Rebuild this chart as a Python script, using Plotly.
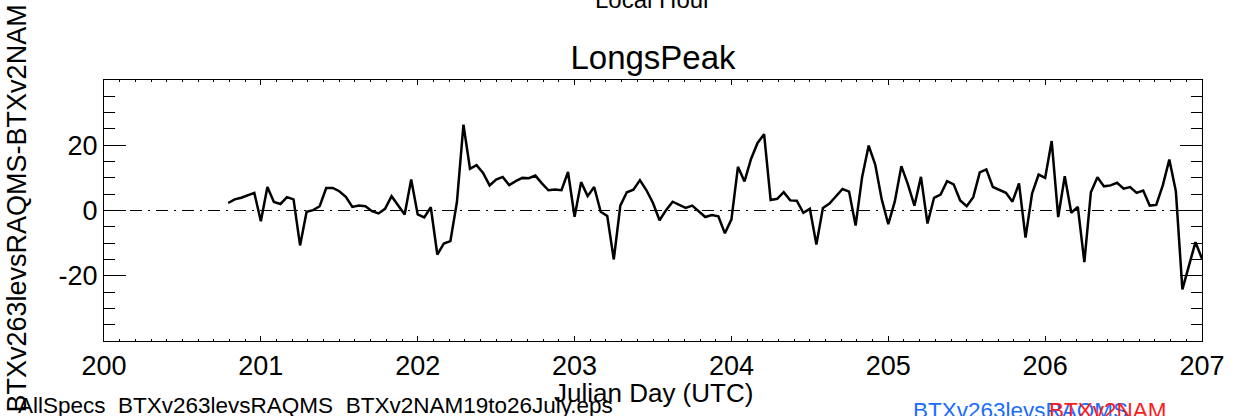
import numpy as np
import plotly.graph_objects as go

# hourly differences BTXv263levsRAQMS - BTXv2NAM, starting day 200 hour 19 UTC
start_day = 200
start_hour = 19
diff = [
    2.3, 3.4, 3.9, 4.6, 5.4, -3.3, 7.2, 2.6, 2.0, 4.1,
    3.4, -10.7, -0.4, 0.1, 1.3, 6.9, 6.9, 5.9, 4.2, 1.1,
    1.5, 1.3, -0.2, -0.9, 0.5, 4.4, 1.5, -1.2, 9.5, -1.2,
    -2.1, 1.0, -13.5, -10.1, -9.4, 2.6, 26.3, 12.8, 13.9, 11.5,
    7.7, 9.5, 10.3, 7.8, 9.0, 10.0, 9.9, 10.7, 8.3, 6.2,
    6.4, 6.2, 11.8, -1.9, 8.7, 4.4, 7.2, -0.4, -1.7, -15.0,
    1.5, 5.6, 6.4, 9.3, 6.2, 2.3, -3.0, 0.1, 2.7, 1.7,
    0.8, 1.5, -0.4, -2.0, -1.4, -1.8, -7.0, -2.7, 13.4, 8.9,
    15.8, 20.7, 23.4, 3.2, 3.6, 5.6, 3.1, 3.0, -0.7, 0.5,
    -10.4, 0.8, 2.1, 4.4, 6.6, 5.8, -4.6, 10.3, 19.9, 14.1,
    3.4, -4.2, 2.8, 13.6, 8.0, 1.5, 10.3, -4.0, 3.9, 4.9,
    9.0, 8.0, 3.1, 1.3, 4.1, 11.7, 12.6, 7.2, 6.4, 5.4,
    2.7, 8.3, -8.3, 5.2, 11.0, 10.0, 21.3, -2.0, 10.5, -0.7,
    1.1, -15.8, 5.6, 10.2, 7.4, 7.7, 8.5, 6.7, 7.2, 5.4,
    6.1, 1.5, 1.7, 7.7, 15.6, 5.9, -24.2, -17.0, -9.7, -14.8,
]
days = start_day + (start_hour + np.arange(len(diff))) / 24.0

x_ticks = [200, 201, 202, 203, 204, 205, 206, 207]
y_ticks = [-40, -20, 0, 20, 40]
y_ticklabels = ['', '-20', '0', '20', '']

font = 'Liberation Sans, Arial, sans-serif'
W, H = 1237, 416
L, R, T, B = 104, 29, 80, 75
ph = H - T - B


def py(pix):
    # pixel row -> paper y
    return (H - B - pix) / ph


def px(pix):
    return (pix - L) / (W - L - R)


fig = go.Figure()
fig.add_trace(go.Scatter(x=days, y=diff, mode='lines',
                         line=dict(color='black', width=2.5), showlegend=False))
fig.add_hline(y=0, line=dict(color='black', width=1, dash='12px,6px,2px,6px'))

xax = dict(range=[200, 207], tickvals=x_ticks, ticks='inside', ticklen=5, tickwidth=1,
           tickcolor='black', showline=True, linecolor='black', linewidth=1.2,
           showgrid=False, zeroline=False,
           minor=dict(dtick=0.1, ticks='inside', ticklen=2, tickcolor='black', showgrid=False))
yax = dict(range=[-40, 40], tickvals=y_ticks, ticks='inside', ticklen=22, tickwidth=1,
           tickcolor='black', showline=True, linecolor='black', linewidth=1.2,
           showgrid=False, zeroline=False,
           minor=dict(dtick=5, ticks='inside', ticklen=11, tickcolor='black', showgrid=False))

fig.update_layout(
    width=W, height=H,
    margin=dict(l=L, r=R, t=T, b=B),
    paper_bgcolor='white', plot_bgcolor='white',
    font=dict(family=font, size=27, color='black'),
    title=dict(text='LongsPeak', x=px(656), xref='paper', xanchor='center',
               y=1 - 57 / H, yanchor='middle', font=dict(size=33)),
    xaxis=dict(**xax, tickfont=dict(size=27)),
    yaxis=dict(**yax, ticktext=y_ticklabels, tickfont=dict(size=27)),
    xaxis2=dict(**xax, overlaying='x', side='top', showticklabels=False, matches='x'),
    yaxis2=dict(**yax, overlaying='y', side='right', showticklabels=False),
)
# invisible trace so the mirrored axes are drawn
fig.add_trace(go.Scatter(x=[days[0]], y=[diff[0]], xaxis='x2', yaxis='y2',
                         mode='markers', marker=dict(opacity=0), showlegend=False, hoverinfo='skip'))

fig.add_annotation(text='Julian Day (UTC)', xref='paper', yref='paper', x=px(656), y=py(393),
                   xanchor='center', yanchor='middle', showarrow=False, font=dict(size=26))
fig.add_annotation(text='Local Hour', xref='paper', yref='paper', x=px(656), y=py(-1),
                   xanchor='center', yanchor='middle', showarrow=False, font=dict(size=24))
fig.add_annotation(text='BTXv263levsRAQMS-BTXv2NAM', xref='paper', yref='paper', x=px(17), y=py(208),
                   xanchor='center', yanchor='middle', textangle=-90, showarrow=False, font=dict(size=27))
fig.add_annotation(text='AllSpecs_BTXv263levsRAQMS_BTXv2NAM19to26July.eps', xref='paper', yref='paper',
                   x=px(16), y=py(405), xanchor='left', yanchor='middle', showarrow=False,
                   font=dict(size=22.5))
fig.add_annotation(text='BTXv263levsRAQMS', xref='paper', yref='paper', x=px(915), y=py(410),
                   xanchor='left', yanchor='middle', showarrow=False, font=dict(size=22.5, color='#1a6cff'))
fig.add_annotation(text='BTXv2NAM', xref='paper', yref='paper', x=px(1052), y=py(410),
                   xanchor='left', yanchor='middle', showarrow=False, font=dict(size=22.5, color='#ff1a1a'))

# drop the default page margin so the figure sits at the window's corner
fig.write_html('out.html', config={'displayModeBar': False},
               post_script="document.body.style.margin='0';document.body.style.overflow='hidden';")
